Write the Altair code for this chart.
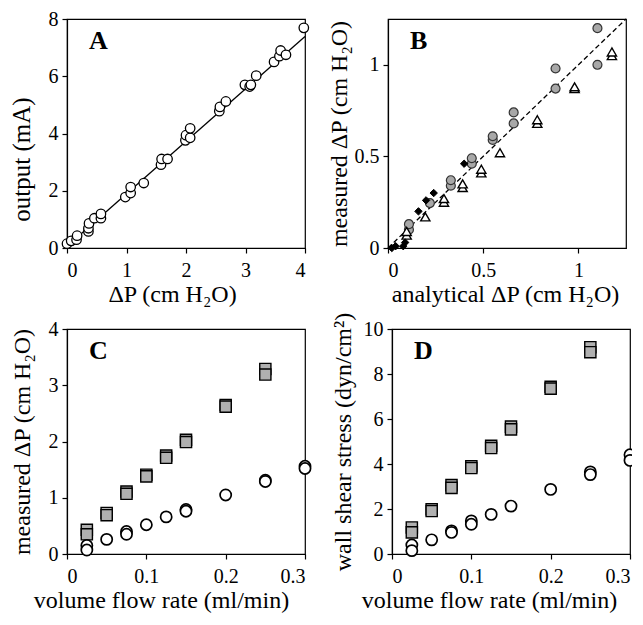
import altair as alt
import pandas as pd

FONT = "Liberation Serif"

# Panel A
a_x = [0.0, 0.07, 0.16, 0.17, 0.36, 0.36, 0.37, 0.46, 0.57, 0.57, 0.98, 1.07, 1.07, 1.29,
       1.58, 1.59, 1.69, 1.99, 2.0, 2.07, 2.07, 2.56, 2.57, 2.67, 2.99, 3.07, 3.09, 3.18,
       3.48, 3.57, 3.59, 3.68, 3.98]
a_y = [0.15, 0.25, 0.29, 0.43, 0.58, 0.69, 0.86, 1.04, 1.04, 1.19, 1.78, 1.92, 2.13, 2.27,
       2.91, 3.11, 3.11, 3.76, 3.94, 3.85, 4.18, 4.78, 4.93, 5.12, 5.70, 5.64, 5.70, 6.02,
       6.50, 6.70, 6.90, 6.75, 7.69]
fit_x = [0.0, 4.0]
fit_y = [0.06, 7.39]

# Panel B
bc_x = [0.11, 0.11, 0.22, 0.33, 0.33, 0.44, 0.44, 0.55, 0.55, 0.66, 0.66, 0.88, 0.88, 1.10, 1.10]
bc_y = [0.10, 0.13, 0.245, 0.34, 0.37, 0.46, 0.49, 0.59, 0.61, 0.68, 0.74, 0.87, 0.98, 1.00, 1.20]
bt_x = [0.098, 0.098, 0.196, 0.294, 0.294, 0.392, 0.392, 0.49, 0.49, 0.588, 0.784, 0.784,
        0.98, 0.98, 1.176, 1.176]
bt_y = [0.07, 0.09, 0.17, 0.25, 0.27, 0.33, 0.35, 0.41, 0.43, 0.52, 0.68, 0.70,
        0.87, 0.88, 1.05, 1.07]
bd_x = [0.02, 0.04, 0.08, 0.09, 0.16, 0.20, 0.24, 0.40]
bd_y = [0.0, 0.01, 0.01, 0.03, 0.20, 0.26, 0.30, 0.46]
ident = [0.0, 1.25]

# Panels C and D
sq_x = [0.025, 0.025, 0.05, 0.05, 0.075, 0.075, 0.1, 0.1, 0.125, 0.125, 0.15, 0.15,
        0.2, 0.2, 0.25, 0.25]
sq_c_y = [0.43, 0.35, 0.73, 0.69, 1.11, 1.07, 1.41, 1.38, 1.75, 1.71, 2.03, 1.99,
          2.65, 2.62, 3.29, 3.19]
sq_d_y = [1.18, 0.96, 1.99, 1.91, 3.06, 2.94, 3.90, 3.82, 4.81, 4.71, 5.66, 5.54,
          7.43, 7.35, 9.19, 8.97]
ci_c_x = [0.025, 0.025, 0.05, 0.075, 0.075, 0.1, 0.125, 0.15, 0.15, 0.2, 0.25, 0.25, 0.3, 0.3]
ci_c_y = [0.15, 0.07, 0.26, 0.40, 0.35, 0.52, 0.66, 0.79, 0.76, 1.05, 1.31, 1.29, 1.56, 1.52]
ci_d_x = [0.025, 0.025, 0.05, 0.075, 0.075, 0.1, 0.1, 0.125, 0.15, 0.2, 0.25, 0.25, 0.3, 0.3]
ci_d_y = [0.40, 0.15, 0.63, 1.03, 0.96, 1.47, 1.32, 1.76, 2.13, 2.87, 3.65, 3.53, 4.41, 4.16]

W = 238
H_TOP, H_BOT = 229, 225


def axis(title, values, fmt, pad, **kw):
    return alt.Axis(title=title, values=values, format=fmt, titlePadding=pad, **kw)


def letter(t):
    return alt.Chart(pd.DataFrame({"t": [t]})).mark_text(
        font=FONT, fontSize=26, fontWeight="bold", align="left", baseline="alphabetic", color="black"
    ).encode(x=alt.value(22), y=alt.value(30), text="t:N")


def pts(df, x, y, **kw):
    return alt.Chart(df).mark_point(filled=True, opacity=1, **kw).encode(x=x, y=y)


# A
dfa = pd.DataFrame({"x": a_x, "y": a_y})
dff = pd.DataFrame({"x": fit_x, "y": fit_y})
xa = alt.X("x:Q", scale=alt.Scale(domain=[0, 4], nice=False),
           axis=axis("ΔP (cm H₂O)", [0, 1, 2, 3, 4], "d", 2, titleX=105))
ya = alt.Y("y:Q", scale=alt.Scale(domain=[0, 8], nice=False),
           axis=axis("output (mA)", [0, 2, 4, 6, 8], "d", 14, titleY=140, titleFontSize=25))
A = alt.layer(
    alt.Chart(dff).mark_line(color="black", strokeWidth=1.3).encode(x=xa, y=ya),
    pts(dfa, xa, ya, shape="circle", fill="white", stroke="black", strokeWidth=1.3, size=90),
    letter("A"),
).properties(width=W, height=H_TOP)

# B
dbi = pd.DataFrame({"x": ident, "y": ident})
dbc = pd.DataFrame({"x": bc_x, "y": bc_y})
dbt = pd.DataFrame({"x": bt_x, "y": bt_y})
dbd = pd.DataFrame({"x": bd_x, "y": bd_y})
xb = alt.X("x:Q", scale=alt.Scale(domain=[0, 1.25], nice=False),
           axis=axis("analytical ΔP (cm H₂O)", [0, 0.5, 1], ".1~f", 2, titleX=117))
yb = alt.Y("y:Q", scale=alt.Scale(domain=[0, 1.25], nice=False),
           axis=axis("measured ΔP (cm H₂O)", [0, 0.5, 1], ".1~f", 3))
B = alt.layer(
    alt.Chart(dbi).mark_line(color="black", strokeWidth=1.3, strokeDash=[5, 3]).encode(x=xb, y=yb),
    pts(dbc, xb, yb, shape="circle", fill="#a8a8a8", stroke="#333333", strokeWidth=1.2, size=80),
    pts(dbt, xb, yb, shape="triangle-up", fill="white", stroke="black", strokeWidth=1.4, size=85),
    pts(dbd, xb, yb, shape="diamond", fill="black", stroke="black", strokeWidth=1, size=55),
    letter("B"),
).properties(width=W, height=H_TOP)

# C
dcs = pd.DataFrame({"x": sq_x, "y": sq_c_y})
dcc = pd.DataFrame({"x": ci_c_x, "y": ci_c_y})
xc = alt.X("x:Q", scale=alt.Scale(domain=[0, 0.3], nice=False),
           axis=axis("volume flow rate (ml/min)", [0, 0.1, 0.2, 0.3], ".1~f", 2, titleX=94))
yc = alt.Y("y:Q", scale=alt.Scale(domain=[0, 4], nice=False),
           axis=axis("measured ΔP (cm H₂O)", [0, 1, 2, 3, 4], "d", 14))
C = alt.layer(
    pts(dcs, xc, yc, shape="square", fill="#b0b0b0", stroke="black", strokeWidth=1.4, size=125),
    pts(dcc, xc, yc, shape="circle", fill="white", stroke="black", strokeWidth=1.7, size=125),
    letter("C"),
).properties(width=W, height=H_BOT)

# D
dds = pd.DataFrame({"x": sq_x, "y": sq_d_y})
ddc = pd.DataFrame({"x": ci_d_x, "y": ci_d_y})
xd = alt.X("x:Q", scale=alt.Scale(domain=[0, 0.3], nice=False),
           axis=axis("volume flow rate (ml/min)", [0, 0.1, 0.2, 0.3], ".1~f", 2, titleX=97))
yd = alt.Y("y:Q", scale=alt.Scale(domain=[0, 10], nice=False),
           axis=axis("wall shear stress (dyn/cm²)", [0, 2, 4, 6, 8, 10], "d", 8))
D = alt.layer(
    pts(dds, xd, yd, shape="square", fill="#b0b0b0", stroke="black", strokeWidth=1.4, size=125),
    pts(ddc, xd, yd, shape="circle", fill="white", stroke="black", strokeWidth=1.7, size=125),
    letter("D"),
).properties(width=W, height=H_BOT)

chart = alt.vconcat(
    alt.hconcat(A, B, spacing=14),
    alt.hconcat(C, D, spacing=15),
    spacing=4,
).properties(
    padding={"left": 0, "top": 0, "right": -8, "bottom": 0}
).configure_view(
    stroke="black", strokeWidth=1.2
).configure_axis(
    labelFont=FONT, titleFont=FONT, labelFontSize=20, titleFontSize=24,
    titleFontWeight="normal", labelColor="black", titleColor="black",
    domainColor="black", tickColor="black", grid=False, tickSize=5,
    labelPadding=4, domainWidth=1.2, tickWidth=1.2,
).configure_axisX(labelPadding=7)

chart.save("out.html", embed_options={"renderer": "svg", "actions": False})
